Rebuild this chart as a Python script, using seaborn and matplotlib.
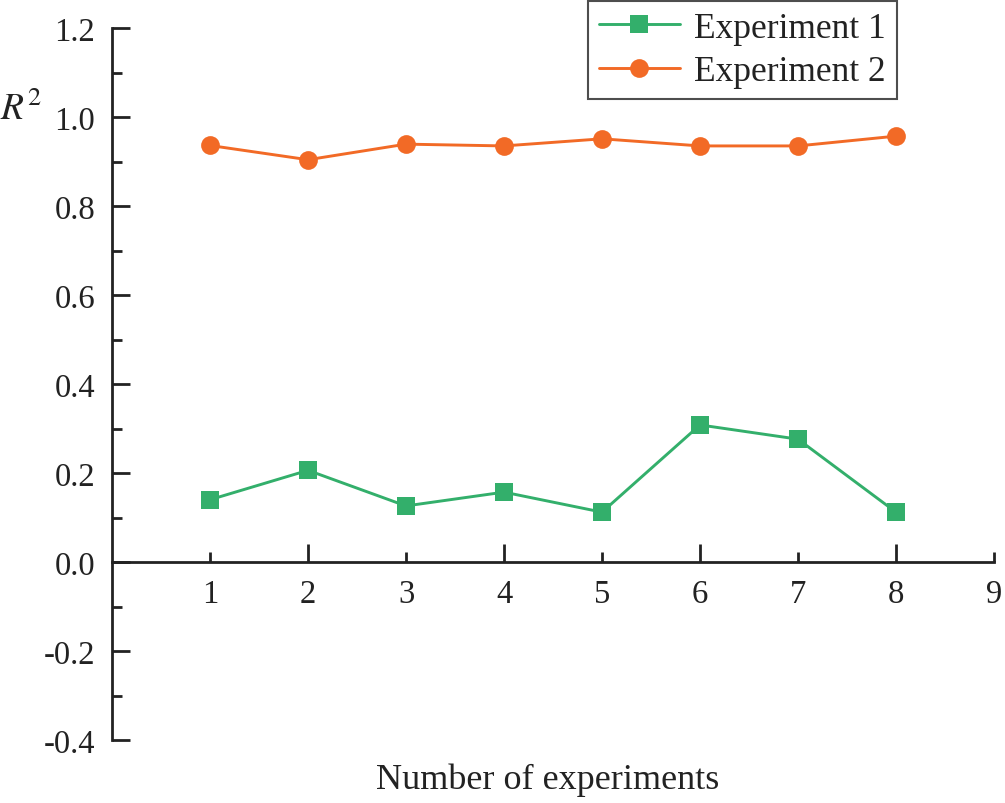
import matplotlib
matplotlib.use('Agg')
import matplotlib.pyplot as plt
import seaborn as sns
import pandas as pd
from matplotlib.ticker import MultipleLocator, FixedLocator, FormatStrFormatter

experiments = [1, 2, 3, 4, 5, 6, 7, 8]
exp1 = [0.140, 0.206, 0.126, 0.157, 0.112, 0.308, 0.276, 0.112]
exp2 = [0.936, 0.904, 0.939, 0.935, 0.951, 0.935, 0.935, 0.957]
series_names = ['Experiment 1', 'Experiment 2']
colors = {'Experiment 1': '#33AF6B', 'Experiment 2': '#F26A26'}
markers = {'Experiment 1': 's', 'Experiment 2': 'o'}

sns.set_theme(style='ticks')
plt.rcParams['font.family'] = ['Liberation Serif', 'DejaVu Serif']
plt.rcParams['mathtext.fontset'] = 'stix'
plt.rcParams['axes.unicode_minus'] = False

df = pd.DataFrame({
    'x': experiments * 2,
    'y': exp1 + exp2,
    'series': [series_names[0]] * len(exp1) + [series_names[1]] * len(exp2),
})

fig = plt.figure(figsize=(10.05, 8.04), dpi=100)
ax = fig.add_axes([112 / 1005, 1 - 741 / 804, (994 - 112) / 1005, (741 - 29) / 804])

sns.lineplot(data=df, x='x', y='y', hue='series', style='series',
             markers=markers, dashes=False, palette=colors,
             markersize=13.5, linewidth=2.1, markeredgewidth=0, ax=ax)

ax.set_xlim(0, 9)
ax.set_ylim(-0.4, 1.2)
ax.spines['top'].set_visible(False)
ax.spines['right'].set_visible(False)
ax.spines['bottom'].set_position(('data', 0))
for s in ['left', 'bottom']:
    ax.spines[s].set_linewidth(2.0)
    ax.spines[s].set_color('#222222')

ax.xaxis.set_major_locator(FixedLocator([2, 4, 6, 8]))
ax.xaxis.set_minor_locator(FixedLocator([1, 3, 5, 7, 9]))
ax.xaxis.set_major_formatter(FormatStrFormatter('%d'))
ax.xaxis.set_minor_formatter(FormatStrFormatter('%d'))
ax.yaxis.set_major_locator(MultipleLocator(0.2))
ax.yaxis.set_minor_locator(MultipleLocator(0.1))
ax.yaxis.set_major_formatter(FormatStrFormatter('%.1f'))

ax.tick_params(axis='both', which='major', direction='in', length=13, width=2,
               color='#222222', labelsize=23.5, labelcolor='#222222', pad=12)
ax.tick_params(axis='both', which='minor', direction='in', length=7, width=2,
               color='#222222', labelsize=23.5, labelcolor='#222222', pad=12)
ax.tick_params(axis='y', which='minor', labelleft=False)

ax.set_xlabel('')
ax.set_ylabel('')
fig.text(548 / 1005, 1 - 780 / 804, 'Number of experiments', ha='center', va='center',
         fontsize=26, color='#222222')
fig.text(21 / 1005, 1 - 110 / 804, '$R^2$', ha='center', va='center',
         fontsize=27, color='#222222')

leg = ax.legend(loc='upper left', bbox_to_anchor=(588 / 1005, 1 - 2 / 804),
                bbox_transform=fig.transFigure, fontsize=25.5, frameon=True,
                fancybox=False, handlelength=2.3, borderpad=0.3,
                labelspacing=0.3, handletextpad=0.4, borderaxespad=0)
leg.get_frame().set_edgecolor('#222222')
leg.get_frame().set_linewidth(1.5)
for t in leg.get_texts():
    t.set_color('#222222')

fig.savefig('out.png', dpi=100)
